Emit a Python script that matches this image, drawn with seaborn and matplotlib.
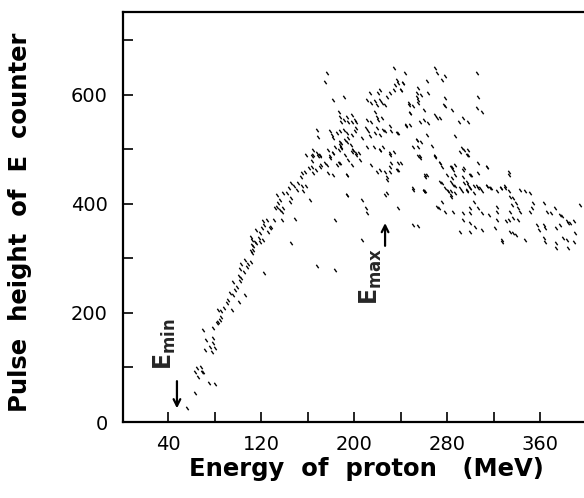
import matplotlib
matplotlib.use("Agg")
import matplotlib.pyplot as plt
import seaborn as sns
import pandas as pd
from matplotlib.ticker import FixedLocator

# ---- data (energy in MeV, pulse height in channels) ----
energy_rise = [56, 63, 63, 65, 68, 69, 66, 70, 75, 80,
               70, 73, 72, 76, 79, 80, 78, 79,
               79, 82, 83, 85, 86,
               83, 86, 88, 91, 92, 95, 96, 93, 98, 99, 96, 102, 101, 103, 105, 102, 108, 109, 111, 103,
               106, 112, 113, 112, 116, 119, 122,
               123, 106, 101]
pulse_rise = [26, 54, 92, 99, 101, 92, 83, 92, 71, 70,
              169, 150, 132, 138, 144, 135, 129, 154,
              172, 181, 184, 187, 193,
              206, 203, 209, 218, 224, 206, 233, 236, 242, 248, 257, 259, 268, 265, 275, 281, 284, 290, 293, 290,
              297, 310, 316, 325, 328, 331, 334,
              273, 233, 221]

energy_band = [111, 113, 112, 111, 115, 118, 119, 116, 121, 123, 122, 125, 128, 129, 126, 131, 132, 134, 136, 138,
               139, 135, 136, 134, 139, 142, 145, 146, 144, 146, 148, 151, 152, 155, 156, 154, 155, 158, 159, 161,
               164, 165, 167, 168, 169, 171, 165, 159, 164, 171, 175, 177, 178, 179, 182, 184, 188, 189, 194, 197,
               199, 204, 185, 188, 194, 182, 149, 138, 162, 146, 184, 194]
pulse_band = [313, 322, 334, 340, 331, 337, 346, 352, 355, 361, 368, 371, 355, 358, 349, 371, 392, 395, 389, 386,
              392, 401, 407, 417, 420, 420, 404, 410, 429, 438, 432, 426, 438, 432, 423, 450, 456, 459, 432, 466,
              468, 456, 462, 493, 487, 490, 490, 490, 478, 468, 475, 472, 456, 487, 493, 505, 508, 511, 514, 508,
              499, 493, 472, 475, 453, 453, 372, 371, 407, 328, 371, 417]

energy_peak = [177, 175, 182, 191, 188, 191, 189, 194, 198, 201, 202, 198, 195, 187,
               179, 181, 182, 185, 188, 191, 194, 192, 188, 189, 195, 198, 201, 202, 168, 169,
               165, 164, 171, 172, 178, 182, 187, 189, 179, 187, 192, 195, 199, 202, 198, 205,
               211, 214, 215, 218, 220, 222, 224, 227, 221, 222, 228, 231, 234, 235, 238, 240, 237, 242, 244, 234,
               247, 255, 254, 248, 218, 220, 215, 211, 221, 224, 225, 220, 218, 222, 227, 231, 232, 237, 210, 212,
               214, 207, 211, 217, 222, 225, 231, 238, 245, 248, 254, 255, 240, 237, 228, 222, 215, 255]
pulse_peak = [640, 624, 591, 597, 560, 554, 551, 560, 563, 554, 551, 551, 551, 569,
              533, 527, 521, 530, 533, 536, 530, 517, 514, 505, 521, 527, 533, 539, 536, 523,
              499, 487, 487, 472, 499, 493, 499, 502, 484, 475, 490, 481, 499, 490, 472, 481,
              591, 603, 585, 588, 582, 591, 585, 582, 603, 609, 597, 603, 609, 618, 621, 609, 628, 621, 640, 649,
              585, 591, 603, 566, 569, 560, 551, 554, 554, 557, 536, 539, 530, 527, 533, 542, 533, 530, 539, 533,
              524, 521, 505, 505, 499, 505, 493, 530, 542, 545, 517, 505, 475, 462, 450, 462, 472, 487]

energy_scatter = [198, 202, 222, 231, 234, 232, 231, 238, 220, 227, 231, 238, 257, 270, 274, 263, 261,
                  194, 228, 194, 227, 228, 207, 251, 260, 238, 271, 210, 211, 251, 255, 207, 168, 184]
pulse_scatter = [496, 493, 499, 490, 496, 475, 468, 475, 459, 459, 459, 462, 487, 487, 475, 453, 423,
                 453, 444, 417, 417, 420, 407, 429, 423, 392, 395, 392, 383, 362, 360, 334, 286, 279]

energy_top = [270, 271, 278, 276, 306, 242, 240, 255, 263, 264, 258, 254, 278, 307, 247, 251, 255, 260, 248,
              270, 271, 274, 277, 278, 284, 306, 310, 245, 257, 260, 264, 290, 294, 298, 263, 287,
              251, 258, 267, 254, 293, 295, 298, 257, 270, 274, 276,
              283, 285, 287, 284, 283, 285, 283, 283, 295, 300, 294, 295, 291, 307, 314, 307, 261, 274,
              278, 281, 287, 287, 293, 297, 300, 303, 307, 310, 314, 317, 323, 326, 330, 333, 333, 251, 260]
pulse_top = [649, 640, 634, 628, 640, 621, 609, 612, 625, 603, 600, 597, 594, 597, 582, 579, 585, 573, 567,
             563, 557, 557, 582, 579, 573, 576, 569, 545, 551, 554, 548, 551, 557, 551, 527, 525,
             505, 514, 506, 517, 502, 499, 490, 484, 486, 475, 468,
             468, 462, 453, 447, 441, 435, 423, 413, 466, 453, 450, 438, 429, 475, 467, 456, 453, 441,
             429, 423, 432, 420, 423, 426, 429, 432, 429, 423, 432, 429, 423, 429, 432, 423, 453, 426, 423]

energy_tail = [270, 291, 297, 298, 284, 287, 261, 280, 294, 301, 314, 333, 276, 297, 298, 297, 300, 281, 283,
               303, 306, 308, 314, 318, 326, 330, 334, 337, 336, 339, 343, 347, 351, 260, 276, 273,
               303, 300, 307, 310, 316, 323, 323, 334, 333, 341, 343, 354, 353, 351, 363, 366, 369, 373,
               377, 379, 383, 386, 394, 278, 285, 294, 300, 294, 300, 304, 310, 291, 300, 323, 321,
               331, 337, 341, 334, 339, 337, 347, 327, 327, 357, 359, 363, 364, 363, 364,
               374, 377, 384, 389, 380, 383, 389, 374, 374, 384, 390]
pulse_tail = [487, 496, 490, 499, 468, 472, 450, 453, 462, 453, 468, 459, 438, 441, 435, 423, 429, 423, 417,
              420, 432, 429, 432, 429, 429, 429, 413, 410, 398, 401, 426, 423, 420, 423, 404, 392,
              404, 392, 392, 383, 380, 395, 386, 386, 371, 392, 386, 401, 392, 386, 401, 386, 383, 392,
              380, 377, 368, 365, 398, 386, 386, 383, 383, 371, 365, 358, 352, 349, 349, 371, 355,
              368, 374, 371, 349, 343, 346, 334, 334, 331, 362, 352, 362, 355, 337, 331,
              355, 362, 365, 368, 337, 334, 331, 328, 319, 319, 346]

x_ticks = [40, 120, 200, 280, 360]
x_minor = [80, 160, 240, 320]
y_ticks = [0, 200, 400, 600]
y_minor = [100, 300, 500, 700]

energy = energy_rise + energy_band + energy_peak + energy_scatter + energy_top + energy_tail
pulse = pulse_rise + pulse_band + pulse_peak + pulse_scatter + pulse_top + pulse_tail
df = pd.DataFrame({"energy": energy, "pulse": pulse})

sns.set_theme(style="ticks")
plt.rcParams["font.family"] = ["DejaVu Sans"]

fig = plt.figure(figsize=(5.84, 4.98), dpi=100)
fig.patch.set_facecolor("white")
ax = fig.add_axes([123 / 584, 76 / 498, 461 / 584, 410 / 498])
ax.set_facecolor("white")

sns.scatterplot(data=df, x="energy", y="pulse", ax=ax, marker=(2, 0, 35), s=9,
                color="black", edgecolor="black", linewidth=1.0, legend=False)

ax.set_xlim(1.3, 397.8)
ax.set_ylim(0, 752)
ax.set_xticks(x_ticks)
ax.xaxis.set_minor_locator(FixedLocator(x_minor))
ax.set_yticks(y_ticks)
ax.yaxis.set_minor_locator(FixedLocator(y_minor))
ax.tick_params(which="both", direction="in", length=7, width=1.2, color="black")
ax.tick_params(axis="x", pad=9)
ax.tick_params(axis="y", pad=11)
for lab in ax.get_xticklabels() + ax.get_yticklabels():
    lab.set_fontfamily(["DejaVu Sans"])
    lab.set_fontsize(14)
    lab.set_color("black")

ax.spines["right"].set_visible(False)
for s in ["left", "bottom", "top"]:
    ax.spines[s].set_linewidth(1.6)
    ax.spines[s].set_color("black")

ax.set_xlabel("Energy  of  proton   (MeV)", fontsize=17.5, fontweight="bold", color="black")
ax.set_ylabel("Pulse  height  of  E  counter", fontsize=17.5, fontweight="bold", color="black")
ax.xaxis.set_label_coords(0.527, -0.085)
ax.yaxis.set_label_coords(-0.198, 0.488)

# E_min and E_max markers
ax.text(37.4, 95, r"$\mathbf{E_{min}}$", rotation=90, ha="center", va="bottom", fontsize=17)
ax.annotate("", xy=(47.7, 20), xytext=(47.7, 80),
            arrowprops=dict(arrowstyle="->", lw=1.6, color="black"))
ax.text(214.6, 215, r"$\mathbf{E_{max}}$", rotation=90, ha="center", va="bottom", fontsize=17)
ax.annotate("", xy=(226.7, 370), xytext=(226.7, 318),
            arrowprops=dict(arrowstyle="->", lw=1.6, color="black"))

fig.savefig("out.png", dpi=100)
